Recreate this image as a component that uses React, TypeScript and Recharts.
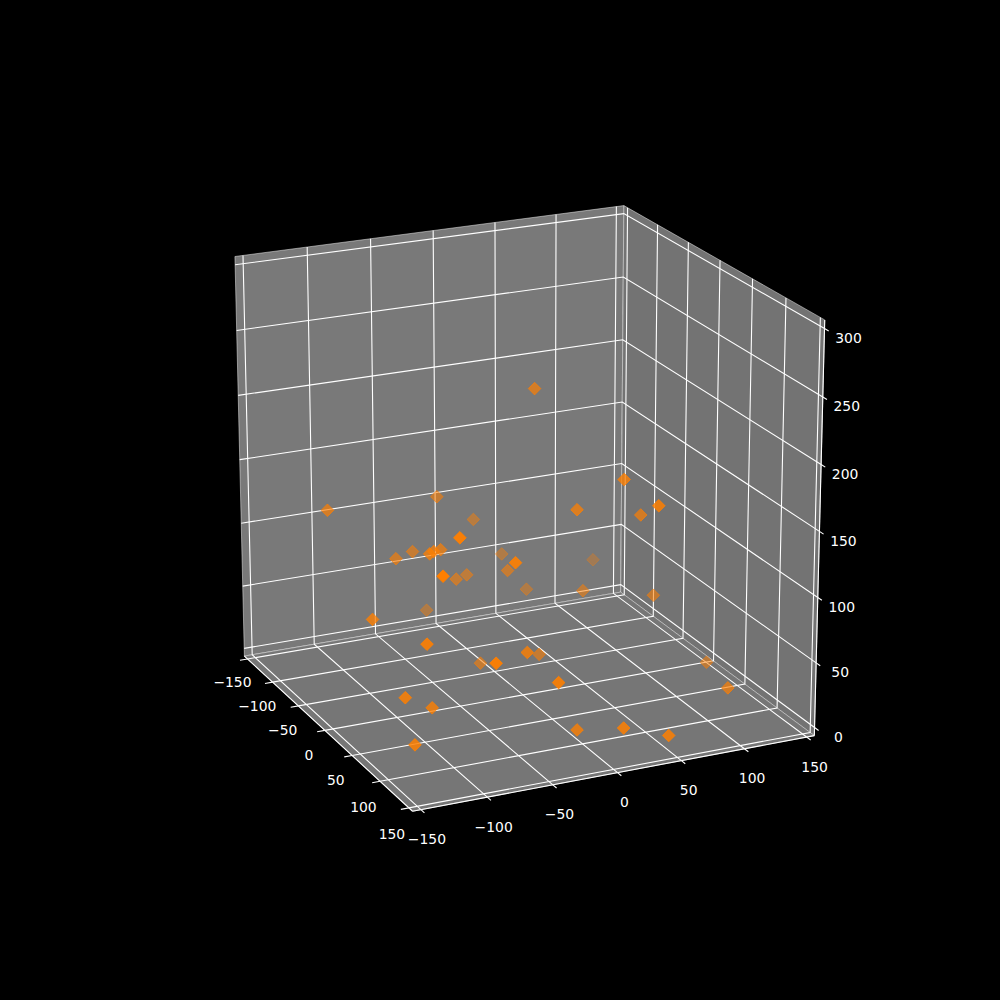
import React from 'react';
import { ScatterChart, Scatter, XAxis, YAxis } from 'recharts';

const xTicks = [-150, -100, -50, 0, 50, 100, 150];
const yTicks = [-150, -100, -50, 0, 50, 100, 150];
const zTicks = [0, 50, 100, 150, 200, 250, 300];

// values, depth taken from how faded each marker is
const xValues = [-85, -111, 81, -29, -30, -10, -80, -62, 106, -60, -79, -115, 82, -46, -99, -126, 54, 25, 91, 25, -127, -39, 5, -36, -72, 9, 73, 57, 47, 71, -33, 119, 63, -17, 121, 95, 129, 144, 16, 90];
const yValues = [-30, 11, -86, -52, -57, -69, -52, -73, -110, -26, -9, 36, -44, 9, 49, -21, 54, 31, 63, 82, 118, 67, 103, 26, -122, -122, -108, -118, -93, -117, -19, -76, -26, 21, -29, -2, 18, 46, 142, 121];
const zValues = [125, 92, 158, 106, 105, 112, 87, 91, 142, 68, 62, 59, 133, 74, 34, 19, 171, 142, 162, 130, 37, 51, 57, 216, 133, 77, 79, 34, 18, 3, 10, 76, 55, 16, 54, 3, 14, 9, 1, 12];

const ORANGE = '#ff7f00';
const WHITE = '#ffffff';

// matplotlib style camera, elev 20 azim -25
const elev = (20 * Math.PI) / 180;
const azim = (-25 * Math.PI) / 180;
const right = [-Math.sin(azim), Math.cos(azim), 0];
const up = [-Math.sin(elev) * Math.cos(azim), -Math.sin(elev) * Math.sin(azim), Math.cos(elev)];
const toward = [Math.cos(elev) * Math.cos(azim), Math.cos(elev) * Math.sin(azim), Math.sin(elev)];
const dot = (a: number[], b: number[]) => a[0] * b[0] + a[1] * b[1] + a[2] * b[2];

const LO = -156.25;
const HI = 156.25;
const ZLO = -6.25;
const ZHI = 306.25;

const depth = (x: number, y: number, z: number) =>
    dot(toward, [x / 312.5, y / 312.5, (z - 150) / 312.5]);

const project = (x: number, y: number, z: number) => {
    const p = [x / 312.5, y / 312.5, (z - 150) / 312.5];
    const d = 10 - dot(toward, p);
    return { sx: 523 + (4360 * dot(right, p)) / d, sy: 494.7 - (4335 * dot(up, p)) / d };
};

const path = (pts: number[][]) => pts.map((p) => project(p[0], p[1], p[2]));

const depths = xValues.map((x, i) => depth(x, yValues[i], zValues[i]));
const nearest = Math.max(...depths);
const farthest = Math.min(...depths);
const points = xValues
    .map((x, i) => ({
        ...project(x, yValues[i], zValues[i]),
        depth: depths[i],
        alpha: 1 - (0.7 * (nearest - depths[i])) / (nearest - farthest),
    }))
    .sort((a, b) => a.depth - b.depth);

const panes = [
    { fill: '#797979', corners: [[LO, LO, ZLO], [LO, HI, ZLO], [LO, HI, ZHI], [LO, LO, ZHI], [LO, LO, ZLO]] },
    { fill: '#737373', corners: [[LO, HI, ZLO], [HI, HI, ZLO], [HI, HI, ZHI], [LO, HI, ZHI], [LO, HI, ZLO]] },
    { fill: '#767676', corners: [[LO, LO, ZLO], [HI, LO, ZLO], [HI, HI, ZLO], [LO, HI, ZLO], [LO, LO, ZLO]] },
];

const gridLines = [
    ...xTicks.map((t) => [[t, LO, ZLO], [t, HI, ZLO], [t, HI, ZHI]]),
    ...yTicks.map((t) => [[HI, t, ZLO], [LO, t, ZLO], [LO, t, ZHI]]),
    ...zTicks.map((t) => [[HI, HI, t], [LO, HI, t], [LO, LO, t]]),
];

const axisLines = [
    [[LO, LO, ZLO], [HI, LO, ZLO]],
    [[HI, LO, ZLO], [HI, HI, ZLO]],
    [[HI, HI, ZLO], [HI, HI, ZHI]],
];

const tickMarks = [
    ...xTicks.map((t) => [[t, LO, ZLO], [t, LO - 6, ZLO]]),
    ...yTicks.map((t) => [[HI, t, ZLO], [HI + 6, t, ZLO]]),
    ...zTicks.map((t) => [[HI, HI, t], [HI + 6, HI, t]]),
];

const minus = (t: number) => String(t).replace('-', '\u2212');
const labels = [
    ...xTicks.map((t) => {
        const p = project(t, LO, ZLO);
        const f = (t + 150) / 300;
        return { sx: p.sx - 15 - 2 * f, sy: p.sy + 23 + 3 * f, text: minus(t) };
    }),
    ...yTicks.map((t) => {
        const p = project(HI, t, ZLO);
        const f = (t + 150) / 300;
        return { sx: p.sx + 6 + 2 * f, sy: p.sy + 29.5, text: minus(t) };
    }),
    ...zTicks.map((t) => {
        const p = project(HI, HI, t);
        return { sx: p.sx + 24, sy: p.sy + 9.5, text: minus(t) };
    }),
];

const NoDot = () => <g />;

const Diamond = (props: any) => {
    const { cx, cy, payload } = props;
    const r = 6.3;
    return (
        <polygon
            points={`${cx},${cy - r} ${cx + r},${cy} ${cx},${cy + r} ${cx - r},${cy}`}
            fill={ORANGE}
            fillOpacity={payload.alpha}
            stroke={ORANGE}
            strokeOpacity={payload.alpha}
            strokeWidth={1}
        />
    );
};

const TickText = (props: any) => (
    <text
        x={props.cx}
        y={props.cy}
        fill={WHITE}
        fontSize={13.9}
        fontFamily="DejaVu Sans"
        textAnchor="middle"
        dominantBaseline="central"
    >
        {props.payload.text}
    </text>
);

export default function App() {
    return (
        <div style={{ position: 'absolute', left: 0, top: 0, width: 1000, height: 1000, background: '#000' }}>
            <ScatterChart width={1000} height={1000} margin={{ top: 0, right: 0, bottom: 0, left: 0 }}>
                <XAxis type="number" dataKey="sx" domain={[0, 1000]} hide />
                <YAxis type="number" dataKey="sy" domain={[0, 1000]} reversed hide />
                {panes.map((pane, i) => (
                    <Scatter
                        key={`pane${i}`}
                        data={path(pane.corners)}
                        line={{ fill: pane.fill, stroke: '#f2f2f2', strokeOpacity: 0.5, strokeWidth: 1 }}
                        shape={NoDot}
                        isAnimationActive={false}
                    />
                ))}
                {gridLines.map((line, i) => (
                    <Scatter
                        key={`grid${i}`}
                        data={path(line)}
                        line={{ stroke: WHITE, strokeWidth: 1.1 }}
                        shape={NoDot}
                        isAnimationActive={false}
                    />
                ))}
                {[...axisLines, ...tickMarks].map((line, i) => (
                    <Scatter
                        key={`axis${i}`}
                        data={path(line)}
                        line={{ stroke: WHITE, strokeWidth: 1.1 }}
                        shape={NoDot}
                        isAnimationActive={false}
                    />
                ))}
                <Scatter data={points} shape={Diamond} isAnimationActive={false} />
                <Scatter data={labels} shape={TickText} isAnimationActive={false} />
            </ScatterChart>
        </div>
    );
}
